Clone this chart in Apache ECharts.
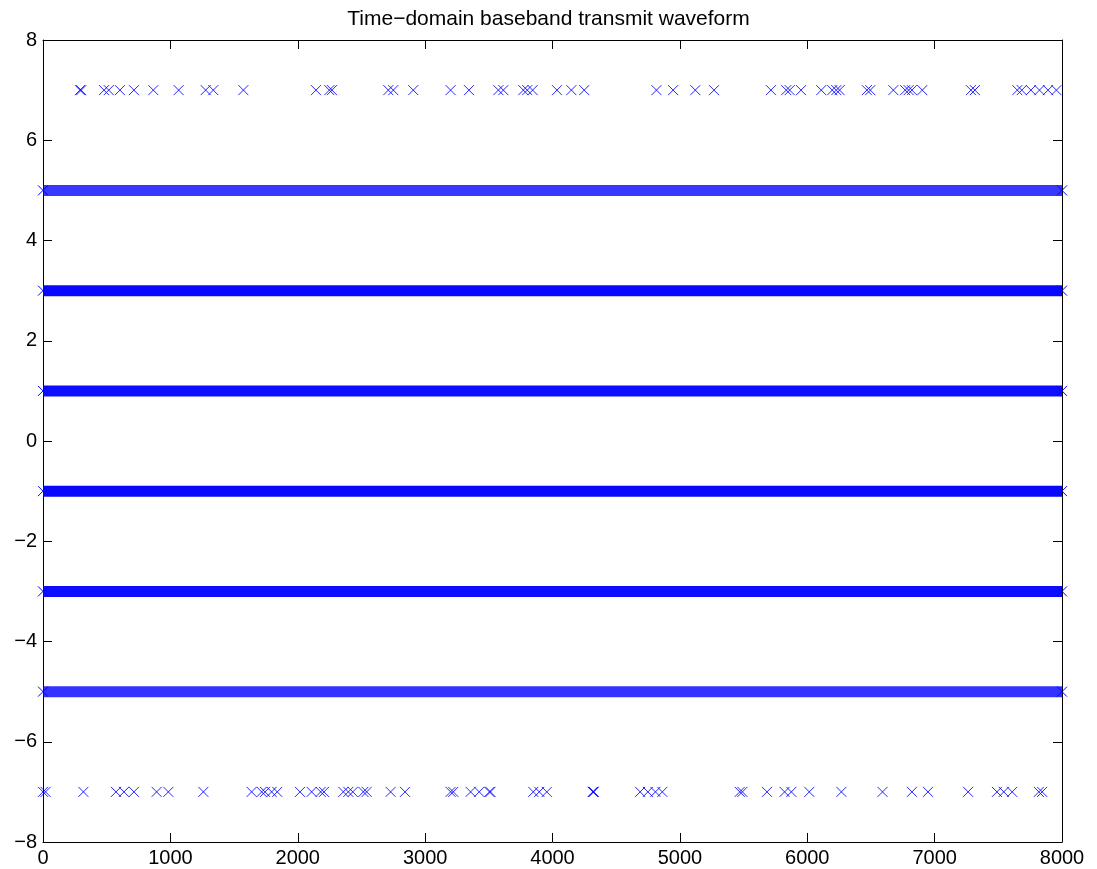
<!DOCTYPE html>
<html>
<head>
<meta charset="utf-8">
<script src="https://cdn.jsdelivr.net/npm/echarts@6/dist/echarts.min.js"></script>
<style>
html,body{margin:0;padding:0;background:#fff;}
#chart{width:1097px;height:869px;}
</style>
</head>
<body>
<div id="chart"></div>
<script>
// ---- data ----
const titleText = 'Time\u2212domain baseband transmit waveform';
const xMin = 0, xMax = 8000, xStep = 1000;
const yMin = -8, yMax = 8, yStep = 2;

// sample indices of the sparse outer level +7
const level7X = [290, 300, 479, 516, 604, 714, 866, 1065, 1277, 1337, 1573, 2143, 2248, 2269,
  2711, 2750, 2907, 3200, 3344, 3575, 3614, 3771, 3802, 3844, 4035, 4148, 4249, 4816, 4947,
  5121, 5268, 5715, 5835, 5862, 5951, 6110, 6196, 6228, 6254, 6468, 6495, 6676, 6769, 6796,
  6822, 6903, 7285, 7316, 7649, 7684, 7756, 7823, 7890, 7956];

// sample indices of the sparse outer level -7
const levelM7X = [0, 20, 317, 573, 636, 714, 892, 984, 1259, 1638, 1717, 1743, 1795, 1839,
  2018, 2109, 2180, 2206, 2358, 2397, 2432, 2515, 2541, 2729, 2842, 3200, 3221, 3357, 3425,
  3505, 3513, 3849, 3896, 3955, 4316, 4320, 4324, 4688, 4749, 4808, 4862, 5470, 5491, 5684,
  5822, 5875, 6016, 6268, 6591, 6822, 6948, 7263, 7489, 7543, 7609, 7818, 7844];

// inner levels are filled almost continuously: runs of samples [start, end]
const denseLevels = [5, 3, 1, -1, -3, -5];
const denseRuns = [[0, 8000], [0, 8000], [0, 8000], [0, 8000], [0, 8000], [0, 8000]];
const denseShade = [0.78, 0.97, 0.95, 0.97, 0.95, 0.8];

// ---- chart ----
const BLUE = '#0000ff';
const CROSS = 'path://M0,0L10,10M10,0L0,10';
const FONT = '"Liberation Sans", Arial, Helvetica, sans-serif';
const fmtMinus = v => String(v).replace('-', '\u2212');
const fmtPlain = v => String(v);

const series = [];
denseLevels.forEach((lv, i) => {
  const run = denseRuns[i];
  series.push({
    type: 'line',
    data: [[run[0], lv], [run[1], lv]],
    symbol: CROSS,
    symbolSize: 10,
    showSymbol: true,
    itemStyle: { color: 'none', borderColor: BLUE, borderWidth: 1 },
    lineStyle: { color: BLUE, width: 11, opacity: denseShade[i], cap: 'butt' },
    silent: true,
    animation: false,
    z: 2
  });
});
series.push({
  type: 'scatter',
  data: level7X.map(x => [x, 7]),
  symbol: CROSS,
  symbolSize: 10,
  itemStyle: { color: 'none', borderColor: BLUE, borderWidth: 1, opacity: 0.85 },
  animation: false,
  z: 3
});
series.push({
  type: 'scatter',
  data: levelM7X.map(x => [x, -7]),
  symbol: CROSS,
  symbolSize: 10,
  itemStyle: { color: 'none', borderColor: BLUE, borderWidth: 1, opacity: 0.85 },
  animation: false,
  z: 3
});

const axisCommon = {
  axisLine: { show: true, onZero: false, lineStyle: { color: '#000', width: 1 } },
  axisTick: { show: true, inside: true, length: 9, lineStyle: { color: '#000', width: 1 } },
  splitLine: { show: false }
};

const chart = echarts.init(document.getElementById('chart'), null, { renderer: 'canvas' });
chart.setOption({
  backgroundColor: '#fff',
  animation: false,
  title: {
    text: titleText,
    left: 'center',
    top: 4,
    textStyle: { fontFamily: FONT, fontSize: 21, fontWeight: 'normal', color: '#000' }
  },
  grid: { left: 43, right: 35, top: 40, bottom: 27, containLabel: false },
  xAxis: [
    Object.assign({
      type: 'value', position: 'bottom', min: xMin, max: xMax, interval: xStep,
      axisLabel: { color: '#000', fontFamily: FONT, fontSize: 20, margin: 6, formatter: fmtPlain }
    }, axisCommon),
    Object.assign({
      type: 'value', position: 'top', min: xMin, max: xMax, interval: xStep,
      axisLabel: { show: false }
    }, axisCommon)
  ],
  yAxis: [
    Object.assign({
      type: 'value', position: 'left', min: yMin, max: yMax, interval: yStep,
      axisLabel: { color: '#000', fontFamily: FONT, fontSize: 20, margin: 6, formatter: fmtMinus }
    }, axisCommon),
    Object.assign({
      type: 'value', position: 'right', min: yMin, max: yMax, interval: yStep,
      axisLabel: { show: false }
    }, axisCommon)
  ],
  series: series
});
</script>
</body>
</html>
